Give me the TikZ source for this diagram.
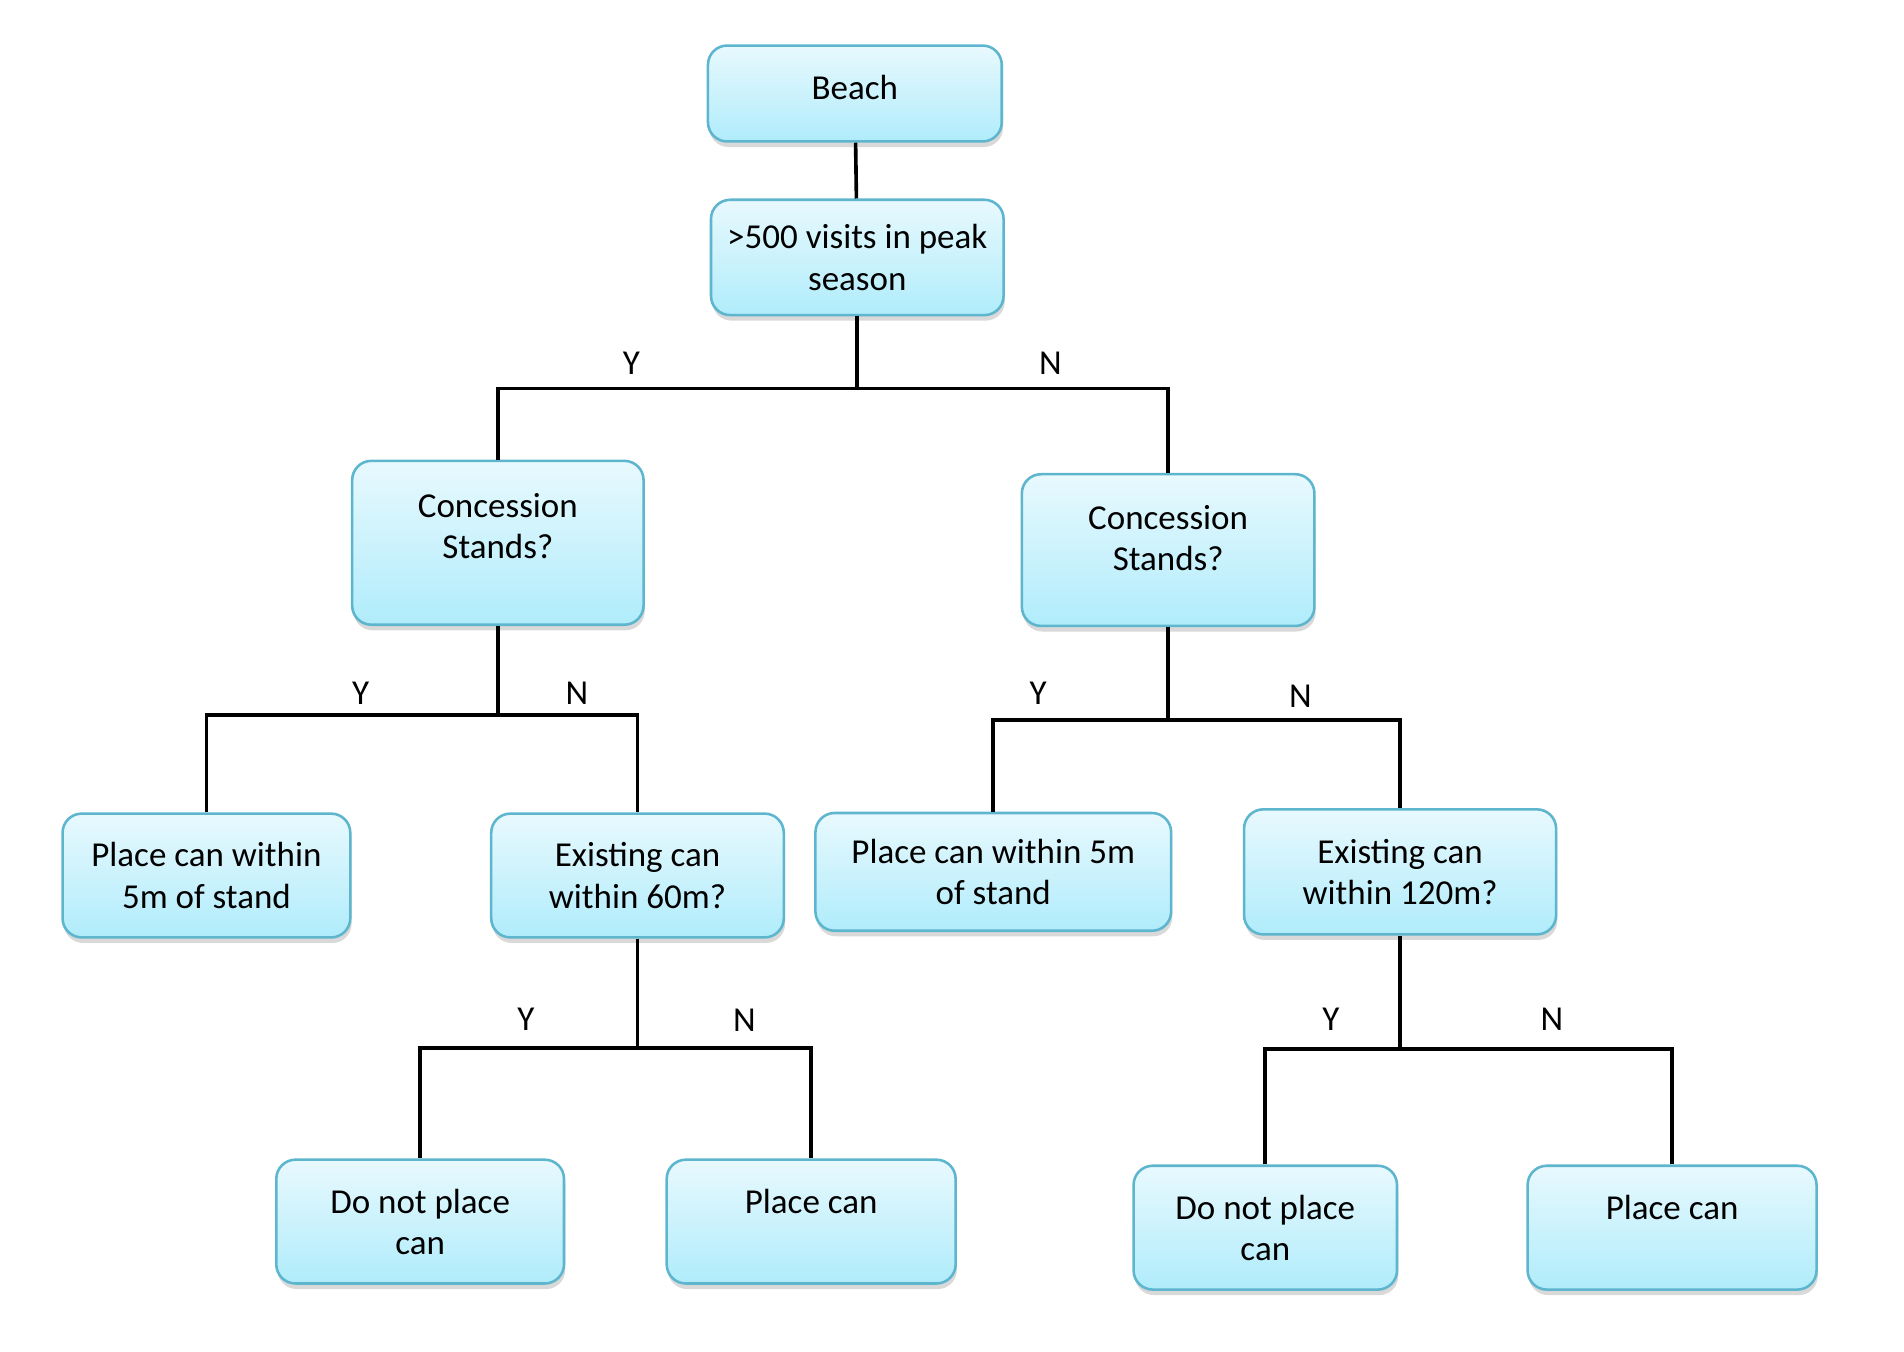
\documentclass[tikz,border=0pt]{standalone}
\usepackage{fontspec}
\setmainfont{Carlito}
\usetikzlibrary{shadows}

\definecolor{boxtop}{RGB}{232,249,254}
\definecolor{boxbot}{RGB}{176,236,251}
\definecolor{boxline}{RGB}{94,182,206}

\tikzset{
    treebox/.style={draw=boxline, line width=1.2pt, rounded corners=9pt,
        top color=boxtop, bottom color=boxbot, align=center, inner sep=2pt,
        drop shadow={opacity=0.3, shadow xshift=0.6pt, shadow yshift=-2.6pt}},
    branch/.style={line width=1.7pt, black},
    yn/.style={inner sep=1pt}
}

\begin{document}
\begin{tikzpicture}[x=0.02cm, y=-0.02cm, font=\fontsize{16.4}{19.3}\selectfont]
    \useasboundingbox (0,0) rectangle (1568,1113);

    % --- boxes ---
    \node[treebox, minimum width=4.84cm, minimum height=1.58cm] (beach) at (704, 77) {Beach\\[-0.48cm]};
    \node[treebox, minimum width=4.82cm, minimum height=1.9cm] (visits) at (706, 212) {>500 visits in peak\\season};

    \node[treebox, minimum width=4.8cm, minimum height=2.7cm] (concL) at (410, 447) {Concession\\Stands?\\[-0.12cm]};
    \node[treebox, minimum width=4.82cm, minimum height=2.5cm] (concR) at (962, 453) {Concession\\Stands?\\[-0.28cm]};

    \node[treebox, minimum width=4.74cm, minimum height=2.04cm] (placeL) at (170, 721) {Place can within\\5m of stand};
    \node[treebox, minimum width=4.82cm, minimum height=2.04cm] (existL) at (525, 721) {Existing can\\within 60m?};
    \node[treebox, minimum width=5.86cm, minimum height=1.94cm] (placeR) at (818, 718) {Place can within 5m\\of stand};
    \node[treebox, minimum width=5.14cm, minimum height=2.06cm] (existR) at (1153, 718) {Existing can\\within 120m?};

    \node[treebox, minimum width=4.74cm, minimum height=2.04cm] (notL) at (346, 1006) {Do not place\\can};
    \node[treebox, minimum width=4.76cm, minimum height=2.04cm] (canL) at (668, 1006) {Place can\\\mbox{}};
    \node[treebox, minimum width=4.34cm, minimum height=2.04cm] (notR) at (1042, 1011) {Do not place\\can};
    \node[treebox, minimum width=4.76cm, minimum height=2.04cm] (canR) at (1377, 1011) {Place can\\\mbox{}};

    % --- junctions ---
    \coordinate (j0) at (706, 320);
    \coordinate (j1) at (410, 589);
    \coordinate (j2) at (962, 593);
    \coordinate (j3) at (525, 863);
    \coordinate (j4) at (1153, 864);

    % --- branches ---
    \draw[branch] (beach) -- (visits);
    \draw[branch] (visits.south) -- (j0);
    \draw[branch] (concL.north) |- (j0) -| (concR.north);

    \draw[branch] (concL.south) -- (j1);
    \draw[branch] (placeL.north) |- (j1) -| (existL.north);
    \draw[branch] (concR.south) -- (j2);
    \draw[branch] (placeR.north) |- (j2) -| (existR.north);

    \draw[branch] (existL.south) -- (j3);
    \draw[branch] (notL.north) |- (j3) -| (canL.north);
    \draw[branch] (existR.south) -- (j4);
    \draw[branch] (notR.north) |- (j4) -| (canR.north);

    % Y / N labels
    \node[yn] (y0) at (520, 299) {Y};  \node[yn] (n0) at (865, 299) {N};
    \node[yn] (y1) at (297, 571) {Y};  \node[yn] (n1) at (475, 571) {N};
    \node[yn] (y2) at (855, 571) {Y};  \node[yn] (n2) at (1071, 573) {N};
    \node[yn] (y3) at (433, 839) {Y};  \node[yn] (n3) at (613, 840) {N};
    \node[yn] (y4) at (1096, 839) {Y}; \node[yn] (n4) at (1278, 839) {N};
\end{tikzpicture}
\end{document}
